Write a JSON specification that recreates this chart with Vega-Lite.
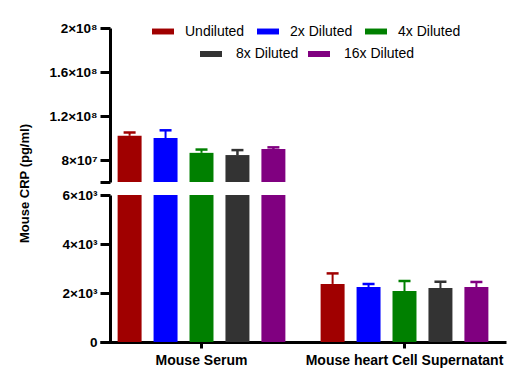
{
  "$schema": "https://vega.github.io/schema/vega-lite/v6.json",
  "padding": {"left": 18, "top": 20, "right": 5, "bottom": 5},
  "bounds": "flush",
  "config": {
    "font": "Liberation Sans",
    "view": {"stroke": null},
    "axis": {
      "grid": false,
      "domainColor": "black",
      "domainWidth": 3,
      "tickColor": "black",
      "tickWidth": 3,
      "labelColor": "black",
      "labelFont": "Liberation Sans",
      "labelFontWeight": "bold",
      "labelFontSize": 13.5,
      "labelOverlap": false,
      "titleColor": "black",
      "titleFont": "Liberation Sans",
      "titleFontWeight": "bold",
      "titleFontSize": 13
    }
  },
  "datasets": {
    "d": [
      {"group": "Mouse Serum", "dilution": "Undiluted", "mean": 102000000, "upper": 105000000},
      {"group": "Mouse Serum", "dilution": "2x Diluted", "mean": 100000000, "upper": 107000000},
      {"group": "Mouse Serum", "dilution": "4x Diluted", "mean": 86500000, "upper": 89500000},
      {"group": "Mouse Serum", "dilution": "8x Diluted", "mean": 84500000, "upper": 89000000},
      {"group": "Mouse Serum", "dilution": "16x Diluted", "mean": 90000000, "upper": 91500000},
      {"group": "Mouse heart Cell Supernatant", "dilution": "Undiluted", "mean": 2370, "upper": 2800},
      {"group": "Mouse heart Cell Supernatant", "dilution": "2x Diluted", "mean": 2245, "upper": 2370},
      {"group": "Mouse heart Cell Supernatant", "dilution": "4x Diluted", "mean": 2080, "upper": 2490},
      {"group": "Mouse heart Cell Supernatant", "dilution": "8x Diluted", "mean": 2200, "upper": 2460},
      {"group": "Mouse heart Cell Supernatant", "dilution": "16x Diluted", "mean": 2245, "upper": 2450}
    ]
  },
  "data": {"name": "d"},
  "spacing": 13,
  "resolve": {
    "scale": {"color": "independent", "stroke": "independent"},
    "legend": {"color": "independent", "stroke": "independent"}
  },
  "vconcat": [
    {
      "width": 393,
      "height": 154,
      "encoding": {
        "x": {"field": "group", "type": "nominal", "sort": ["Mouse Serum", "Mouse heart Cell Supernatant"], "scale": {"paddingInner": 0, "paddingOuter": 0, "range": [-10, 396]}, "axis": null},
        "xOffset": {"field": "dilution", "type": "nominal", "scale": {"domain": ["Undiluted", "2x Diluted", "4x Diluted", "8x Diluted", "16x Diluted"], "paddingInner": 0.333, "paddingOuter": 0.49}}
      },
      "layer": [
        {
          "mark": {"type": "bar", "clip": true, "opacity": 1},
          "encoding": {
            "y": {
              "field": "mean", "type": "quantitative",
              "scale": {"domain": [60000000, 200000000], "zero": false, "nice": false},
              "axis": {
                "title": "Mouse CRP (pg/ml)",
                "titleY": 155,
                "titlePadding": 17,
                "tickSize": 10,
                "tickCount": 20,
                "labelOverlap": false,
                "labelPadding": 3,
                "values": [60000000, 80000000, 120000000, 160000000, 200000000],
                "labelExpr": "datum.value == 80000000 ? '8×10⁷' : datum.value == 120000000 ? '1.2×10⁸' : datum.value == 160000000 ? '1.6×10⁸' : datum.value == 200000000 ? '2×10⁸' : ''"
              }
            },
            "y2": {"datum": 60000000},
            "color": {
              "field": "dilution", "type": "nominal",
              "scale": {"domain": ["Undiluted", "2x Diluted", "4x Diluted", "8x Diluted", "16x Diluted"], "range": ["#A00000", "#0000FF", "#008000", "#333333", "#800080"]},
              "legend": {
                "values": ["Undiluted", "2x Diluted", "4x Diluted"],
                "orient": "none", "legendX": 42, "legendY": -7.5,
                "direction": "horizontal", "columns": 3, "title": null,
                "symbolType": "M-1,-0.27H1V0.27H-1Z", "symbolSize": 484, "symbolStrokeWidth": 0, "symbolOpacity": 1,
                "labelFontSize": 14, "labelFont": "Liberation Sans", "labelColor": "black",
                "columnPadding": 12, "labelOffset": 11, "padding": 0
              }
            }
          }
        },
        {
          "mark": {"type": "rule", "clip": true, "strokeWidth": 2, "opacity": 1},
          "encoding": {
            "y": {"field": "mean", "type": "quantitative"},
            "y2": {"field": "upper"},
            "color": {"field": "dilution", "type": "nominal"}
          }
        },
        {
          "mark": {"type": "tick", "clip": true, "size": 12, "thickness": 2.5, "opacity": 1},
          "encoding": {
            "y": {"field": "upper", "type": "quantitative"},
            "color": {"field": "dilution", "type": "nominal"}
          }
        },
        {
          "transform": [{"filter": {"field": "dilution", "oneOf": ["8x Diluted", "16x Diluted"]}}],
          "mark": {"type": "rule", "clip": true, "strokeWidth": 2, "opacity": 1},
          "encoding": {
            "y": {"field": "mean", "type": "quantitative"},
            "y2": {"field": "upper"},
            "stroke": {
              "field": "dilution", "type": "nominal",
              "scale": {"domain": ["8x Diluted", "16x Diluted"], "range": ["#333333", "#800080"]},
              "legend": {
                "orient": "none", "legendX": 87, "legendY": 12,
                "direction": "horizontal", "columns": 2, "title": null,
                "symbolType": "M-1,0H1", "symbolSize": 484, "symbolStrokeWidth": 6, "symbolOpacity": 1,
                "labelFontSize": 14, "labelFont": "Liberation Sans", "labelColor": "black",
                "columnPadding": -3, "labelOffset": 11, "padding": 0
              }
            }
          }
        }
      ]
    },
    {
      "width": 393,
      "height": 147,
      "encoding": {
        "x": {
          "field": "group", "type": "nominal", "sort": ["Mouse Serum", "Mouse heart Cell Supernatant"],
          "scale": {"paddingInner": 0, "paddingOuter": 0, "range": [-10, 396]},
          "axis": {"title": null, "labelAngle": 0, "tickSize": 6, "labelPadding": 5, "labelFontSize": 14, "labelLimit": 400}
        },
        "xOffset": {"field": "dilution", "type": "nominal", "scale": {"domain": ["Undiluted", "2x Diluted", "4x Diluted", "8x Diluted", "16x Diluted"], "paddingInner": 0.333, "paddingOuter": 0.49}}
      },
      "layer": [
        {
          "mark": {"type": "bar", "clip": true, "opacity": 1},
          "encoding": {
            "y": {
              "field": "mean", "type": "quantitative",
              "scale": {"domain": [0, 6000], "nice": false},
              "axis": {
                "title": null,
                "tickSize": 10,
                "tickCount": 20,
                "labelOverlap": false,
                "labelPadding": 3,
                "values": [0, 2000, 4000, 6000],
                "labelExpr": "datum.value == 0 ? '0' : datum.value == 2000 ? '2×10³' : datum.value == 4000 ? '4×10³' : '6×10³'"
              }
            },
            "color": {
              "field": "dilution", "type": "nominal",
              "scale": {"domain": ["Undiluted", "2x Diluted", "4x Diluted", "8x Diluted", "16x Diluted"], "range": ["#A00000", "#0000FF", "#008000", "#333333", "#800080"]},
              "legend": null
            }
          }
        },
        {
          "mark": {"type": "rule", "clip": true, "strokeWidth": 2, "opacity": 1},
          "encoding": {
            "y": {"field": "mean", "type": "quantitative"},
            "y2": {"field": "upper"},
            "color": {"field": "dilution", "type": "nominal"}
          }
        },
        {
          "mark": {"type": "tick", "clip": true, "size": 12, "thickness": 2.5, "opacity": 1},
          "encoding": {
            "y": {"field": "upper", "type": "quantitative"},
            "color": {"field": "dilution", "type": "nominal"}
          }
        }
      ]
    }
  ]
}
